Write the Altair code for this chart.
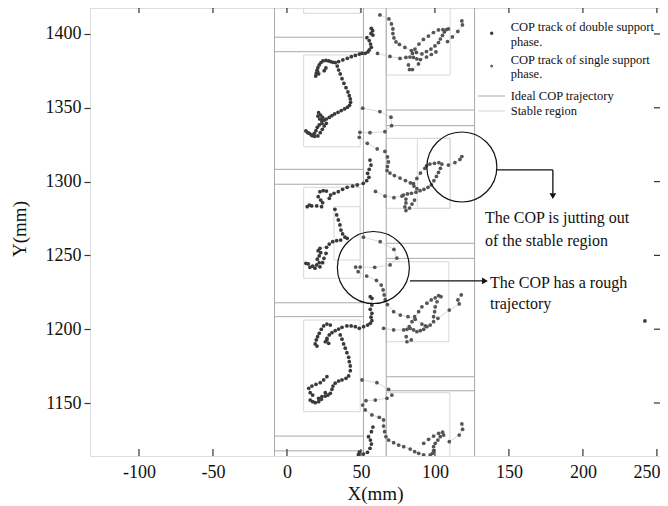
import altair as alt
import pandas as pd

# ---------------- axes ----------------
X_TICKS = [-100, -50, 0, 50, 100, 150, 200, 250]
Y_TICKS = [1150, 1200, 1250, 1300, 1350, 1400]
X_DOMAIN = [-133.1, 252.1]
Y_DOMAIN = [1114.1, 1417.6]

# ---------------- COP tracks (mm) ----------------
L1A = [(57.0,1403.8),(57.9,1402.2),(56.8,1400.4),(58.1,1399.3),(54.0,1397.5),(55.6,1395.5),(56.5,1393.2),
       (57.0,1391.0),(55.6,1389.2),(54.7,1387.8),(52.9,1386.9),(50.7,1386.9),(48.9,1386.4),(46.2,1385.5),
       (43.5,1384.6),(40.8,1383.5),(37.8,1382.4),(34.9,1381.3),(32.7,1380.6),(31.1,1380.8),(29.5,1381.3),
       (28.2,1381.7),(26.3,1382.1),(24.3,1381.7),(23.0,1380.6),(21.8,1379.0),(20.9,1377.2),(20.3,1375.4),
       (19.8,1373.3),(19.4,1371.5),(20.7,1374.5),(21.4,1372.9),(25.2,1375.1),(26.3,1377.0)]
L1B = [(34.0,1378.3),(34.9,1375.6),(36.0,1372.9),(37.2,1369.7),(38.5,1366.6),(39.9,1363.6),(41.2,1360.7),
       (42.1,1358.2),(42.8,1356.0),(43.0,1353.7),(42.3,1351.7),(40.8,1350.3),(38.9,1349.2),(36.7,1348.1),
       (34.5,1346.9),(32.2,1345.8),(30.4,1344.7),(28.6,1343.5),(26.6,1342.4),(24.1,1343.5),(22.7,1345.1),
       (21.4,1346.7),(20.9,1344.4),(22.1,1342.4),(23.6,1341.3),(25.2,1341.7),(23.6,1339.5),(21.8,1338.4),
       (20.5,1336.8),(19.6,1334.5),(18.5,1332.7),(17.3,1331.1),(15.1,1332.7),(12.8,1334.3),(14.0,1333.1),
       (16.4,1331.6),(18.7,1330.7),(20.9,1330.9),(22.5,1333.1),(23.9,1335.4),(25.2,1337.7),(26.6,1339.5)]
T1 = [(51.2,1349.7),(62.8,1347.4),(70.3,1343.6),(70.7,1337.9),(66.2,1333.8),(56.1,1333.1),(49.3,1333.4),
      (48.9,1330.0),(54.3,1325.9),(61.0,1322.1)]
R1A = [(62.8,1412.9),(68.9,1410.2),(70.6,1406.8),(71.6,1403.4),(71.6,1400.3),(72.3,1397.3),(73.7,1394.6),
       (76.0,1392.9),(79.7,1390.9),(84.1,1388.8),(87.5,1387.5),(91.2,1386.5),(94.3,1388.1),(97.3,1389.8),
       (100.0,1391.9),(102.4,1394.2),(103.7,1396.6),(105.1,1399.0),(106.4,1401.4),(107.8,1403.0),
       (109.1,1403.4),(105.4,1403.0),(102.4,1402.7),(99.0,1401.0),(95.6,1398.6),(92.2,1396.3),(89.2,1393.2),
       (86.5,1389.8),(84.8,1386.8)]
R1B = [(61.2,1386.8),(69.6,1384.8),(76.4,1383.4),(80.4,1384.1),(83.1,1384.4),(85.5,1384.1),(87.8,1383.1),
       (90.2,1382.7),(94.3,1384.4),(97.6,1386.1),(100.7,1387.8)]
R1C = [(82.1,1379.0),(82.8,1375.9),(84.8,1375.9),(88.9,1379.7)]
R1D = [(108.5,1394.9),(111.8,1398.0),(115.5,1401.7),(118.6,1406.1),(118.2,1408.8)]
R2A = [(66.2,1320.4),(67.9,1316.7),(68.6,1313.3),(67.9,1310.2),(67.6,1307.5),(69.6,1305.8),(72.6,1304.1),
       (76.4,1302.4),(80.1,1300.7),(83.4,1299.1),(85.8,1297.0),(87.8,1295.3)]
R2B = [(94.3,1310.6),(96.6,1311.9),(99.7,1312.4),(102.7,1312.8),(104.7,1311.9),(103.7,1309.0),(102.4,1306.2),
       (101.0,1303.5),(99.3,1300.6),(97.6,1297.7),(95.3,1296.1),(92.6,1294.8),(89.9,1293.8),(87.2,1292.8),
       (84.1,1292.1),(81.4,1291.6),(78.7,1290.9)]
R2C = [(93.2,1309.0),(90.2,1305.8),(87.8,1302.1),(85.5,1298.7)]
R2D = [(59.8,1293.3),(66.2,1290.2),(72.3,1289.1),(77.7,1290.2)]
R2E = [(80.4,1288.2),(80.4,1285.5),(79.7,1282.8),(80.4,1280.4),(82.8,1282.1),(84.5,1284.8),(86.2,1287.5)]
R2F = [(109.1,1311.2),(113.5,1312.9),(116.9,1315.0),(118.2,1317.0)]
L2A = [(56.1,1314.6),(56.8,1311.2),(55.6,1308.3),(54.5,1305.6),(55.4,1302.9),(53.9,1300.6),(51.6,1298.8),
       (47.5,1297.7),(44.4,1297.0),(40.7,1296.1),(37.6,1294.8),(34.7,1293.2),(31.8,1292.1),(29.5,1290.9),
       (28.6,1288.7)]
L2B = [(26.7,1293.6),(24.5,1293.8),(22.3,1293.2),(21.1,1289.8),(22.8,1287.5),(24.1,1285.7),(23.4,1283.0),
       (20.1,1283.5),(16.7,1283.5),(13.7,1283.0),(15.2,1284.1)]
L2C = [(32.4,1281.2),(33.6,1277.4),(34.7,1274.0),(35.8,1270.6),(36.5,1267.2),(37.6,1264.5),(39.2,1262.3),
       (40.7,1261.6)]
L2D = [(36.3,1260.4),(33.6,1260.0),(30.9,1259.3),(28.6,1257.7),(26.8,1255.5),(22.3,1254.8),(21.1,1253.2),
       (22.8,1251.8),(21.8,1249.6),(20.5,1247.4),(21.8,1245.1),(20.1,1243.5),(17.4,1242.8),(14.4,1244.2),
       (12.8,1244.6),(15.5,1241.9),(18.9,1241.3),(22.3,1242.3),(24.1,1245.1),(25.0,1248.0),(26.4,1251.4)]
T2 = [(51.7,1262.3),(63.0,1259.3),(72.3,1254.0),(74.3,1248.2),(69.7,1243.5),(59.3,1241.9),(49.5,1242.1),
      (46.4,1242.1),(48.1,1239.0),(53.9,1236.0),(60.5,1233.0),(63.7,1229.9),(65.0,1226.6),(65.7,1223.2),
      (66.4,1220.0),(67.9,1216.7),(72.1,1211.9),(76.6,1209.6),(81.8,1208.5),(86.7,1206.7),(91.2,1203.5),
      (93.5,1202.2)]
R3A = [(94.6,1217.6),(97.5,1219.8),(100.2,1221.3),(102.5,1222.7),(104.1,1222.0),(101.4,1218.6),(100.2,1215.2),
       (99.8,1211.9),(99.1,1208.5),(99.1,1205.1),(96.8,1202.8),(94.6,1201.7),(92.4,1199.9),(90.1,1199.0),
       (87.8,1198.3),(85.6,1199.5),(83.3,1200.6),(81.1,1199.9),(78.9,1199.5),(72.1,1199.5),(65.3,1200.6)]
R3B = [(91.2,1215.2),(89.0,1211.9),(86.3,1208.5),(84.5,1205.1),(82.6,1201.7)]
R3C = [(80.6,1194.9),(81.1,1191.5),(84.0,1192.7)]
R3D = [(102.0,1207.4),(109.7,1213.0),(116.4,1217.1),(115.5,1219.8),(117.8,1223.2)]
L3A = [(56.3,1222.0),(57.4,1220.9),(57.4,1216.4),(56.3,1213.5),(57.4,1210.8),(56.8,1208.1),(57.4,1205.8),
       (56.3,1204.0),(54.5,1202.8),(51.8,1201.7),(48.9,1200.6),(46.2,1201.7),(43.4,1202.2),(40.5,1202.2),
       (37.2,1201.3),(34.9,1200.1),(32.6,1199.0),(30.4,1197.6),(28.6,1196.1),(27.0,1193.8),(25.9,1191.5)]
L3B = [(29.3,1202.8),(27.0,1203.5),(24.8,1202.2),(23.2,1199.9),(21.8,1197.2),(20.7,1194.9),(19.8,1192.7),
       (19.1,1190.0),(20.3,1188.6)]
L3E = [(27.0,1192.7),(28.2,1190.4)]
L3C = [(36.0,1196.1),(37.2,1193.2),(38.3,1190.0),(39.4,1187.1),(40.5,1184.1),(41.7,1181.0),(42.1,1178.0),
       (42.8,1175.1),(42.8,1171.9),(41.7,1168.3),(39.9,1166.7),(37.2,1165.6),(34.9,1164.9),(32.6,1163.4),
       (31.1,1161.5),(30.4,1159.3),(29.3,1156.6),(27.7,1155.4),(25.9,1154.7),(23.6,1154.3),(21.4,1153.2)]
L3D = [(27.0,1167.8),(24.8,1165.6),(22.5,1163.8),(19.6,1162.7),(16.9,1161.5),(14.7,1160.0),(15.7,1157.0),
       (17.4,1155.4),(15.7,1152.0),(17.4,1150.9),(19.1,1150.2),(21.4,1150.9),(23.2,1152.5),(25.9,1157.0)]
T3 = [(50.7,1165.6),(60.8,1163.8),(68.7,1159.3),(70.9,1155.4),(67.6,1153.2),(59.7,1152.0),(53.4,1151.6),
      (51.2,1148.6),(52.9,1145.3),(57.4,1141.9),(62.4,1140.3),(65.3,1138.5),(65.3,1134.4),(66.0,1130.6),
      (66.9,1127.2),(68.7,1124.9),(72.1,1123.1),(75.5,1121.5),(78.9,1120.4),(83.3,1118.8),(86.3,1117.0),
      (89.0,1115.9),(92.4,1114.8)]
R4A = [(92.4,1122.7),(95.7,1125.4),(99.1,1127.6),(102.5,1129.5),(105.2,1130.2),(105.9,1128.3),(103.6,1127.2),
       (102.0,1124.9),(100.2,1122.7),(99.1,1120.4),(99.1,1117.7),(98.4,1115.9),(96.8,1114.8)]
R4B = [(109.7,1123.8),(116.4,1128.3),(118.7,1132.2),(118.2,1135.8)]
L4 = [(58.1,1133.7),(57.1,1130.6),(55.1,1127.2),(56.4,1124.9),(57.1,1122.2),(56.1,1119.3),(54.4,1116.6),
      (51.7,1115.4),(48.9,1116.8),(48.3,1115.1)]
STRAY = [(241.9,1205.6)]

TRACKS = [
    ("L1A", "double", L1A), ("L1B", "double", L1B), ("L2A", "double", L2A), ("L2B", "double", L2B),
    ("L2C", "double", L2C), ("L2D", "double", L2D), ("L3A", "double", L3A), ("L3B", "double", L3B),
    ("L3E", "double", L3E), ("L3C", "double", L3C), ("L3D", "double", L3D), ("L4", "double", L4),
    ("T1", "single", T1), ("T2", "single", T2), ("T3", "single", T3),
    ("R1A", "single", R1A), ("R1B", "single", R1B), ("R1C", "single", R1C), ("R1D", "single", R1D),
    ("R2A", "single", R2A), ("R2B", "single", R2B), ("R2C", "single", R2C), ("R2D", "single", R2D),
    ("R2E", "single", R2E), ("R2F", "single", R2F),
    ("R3A", "single", R3A), ("R3B", "single", R3B), ("R3C", "single", R3C), ("R3D", "single", R3D),
    ("R4A", "single", R4A), ("R4B", "single", R4B), ("STRAY", "double", STRAY),
]

# ---------------- ideal COP trajectory / stable regions (mm) ----------------
IDEAL_VX = [-8.4, 51.7, 67.1, 126.8]
IDEAL_LEFT_Y = [1397.8, 1388.0, 1308.3, 1298.2, 1217.9, 1208.5, 1127.6, 1117.6]
IDEAL_LEFT_X = (-8.4, 51.7)
IDEAL_RIGHT_Y = [1348.5, 1337.9, 1258.2, 1248.0, 1167.8, 1158.3]
IDEAL_RIGHT_X = (67.1, 126.8)
STABLE_X1 = [11.3, 11.3, 11.3, 31.8, 11.3, 67.1, 67.1, 88.1, 67.1, 67.1]
STABLE_X2 = [49.5, 49.5, 49.5, 49.5, 49.5, 110.3, 110.3, 110.3, 109.4, 110.1]
STABLE_Y1 = [1414.0, 1323.6, 1234.5, 1246.9, 1144.1, 1372.2, 1281.9, 1281.9, 1191.5, 1100.0]
STABLE_Y2 = [1430.0, 1385.8, 1296.1, 1283.0, 1206.2, 1419.0, 1329.3, 1329.3, 1245.7, 1157.0]

# ---------------- annotations (mm) ----------------
CIRCLE_X = [118.2, 58.4]
CIRCLE_Y = [1309.9, 1241.8]
CIRCLE_S = [4900, 5184]
ARROW_X1 = [141.9, 179.7, 83.1]
ARROW_X2 = [179.7, 179.7, 132.0]
ARROW_Y1 = [1307.9, 1307.9, 1232.7]
ARROW_Y2 = [1307.9, 1292.0, 1232.7]
HEAD_X = [179.7, 133.8]
HEAD_Y = [1290.2, 1232.7]
HEAD_SHAPE = ["triangle-down", "triangle-right"]
NOTE_TEXT = ["The COP is jutting out", "of the stable region", "The COP has a rough", "trajectory"]
NOTE_X = [133.8, 133.8, 137.2, 137.2]
NOTE_Y = [1275.3, 1259.8, 1231.3, 1217.1]

LEGEND_TEXT = ["COP track of double support", "phase.", "COP track of single support", " phase.",
               "Ideal COP trajectory", "Stable region"]

# ---------------- build tables ----------------
rows = []
for name, phase, pts in TRACKS:
    for i, (x, y) in enumerate(pts):
        rows.append({"track": name, "phase": phase, "i": i, "x": x, "y": y})
df = pd.DataFrame(rows)

df_v = pd.DataFrame({"x": IDEAL_VX})
df_h = pd.DataFrame(
    [{"y": y, "x1": IDEAL_LEFT_X[0], "x2": IDEAL_LEFT_X[1]} for y in IDEAL_LEFT_Y]
    + [{"y": y, "x1": IDEAL_RIGHT_X[0], "x2": IDEAL_RIGHT_X[1]} for y in IDEAL_RIGHT_Y]
)
df_rect = pd.DataFrame({"x1": STABLE_X1, "x2": STABLE_X2, "y1": STABLE_Y1, "y2": STABLE_Y2})
df_circ = pd.DataFrame({"x": CIRCLE_X, "y": CIRCLE_Y, "s": CIRCLE_S})
df_arr = pd.DataFrame({"x1": ARROW_X1, "x2": ARROW_X2, "y1": ARROW_Y1, "y2": ARROW_Y2})
df_head = pd.DataFrame({"x": HEAD_X, "y": HEAD_Y, "shape": HEAD_SHAPE})
df_note = pd.DataFrame({"x": NOTE_X, "y": NOTE_Y, "t": NOTE_TEXT})
df_xt = pd.DataFrame({"v": X_TICKS})
df_yt = pd.DataFrame({"v": Y_TICKS})
one = pd.DataFrame({"a": [0]})

W, H = 570, 448
FONT = "Liberation Serif"
XS = alt.Scale(domain=X_DOMAIN, nice=False, zero=False)
YS = alt.Scale(domain=Y_DOMAIN, nice=False, zero=False)
XAXIS = alt.Axis(values=X_TICKS, ticks=False, domain=False, grid=False, labelExpr="'' + datum.value",
                 labelAlign={"condition": {"test": "datum.value == 250", "value": "right"}, "value": "center"},
                 labelOffset={"condition": {"test": "datum.value == 250", "value": 3}, "value": 0},
                 labelFont=FONT, labelFontSize=18, labelPadding=7, labelColor="#111",
                 title="X(mm)", titleFont=FONT, titleFontSize=19, titleFontWeight="normal",
                 titleColor="#111", titleY=37, titleBaseline="middle")
YAXIS = alt.Axis(values=Y_TICKS, tickSize=6, tickColor="#333", tickWidth=1.2, domain=False, grid=False,
                 labelExpr="'' + datum.value", labelFont=FONT, labelFontSize=18, labelPadding=3,
                 labelColor="#111", title="Y(mm)", titleFont=FONT, titleFontSize=19,
                 titleFontWeight="normal", titleColor="#111", titleX=-71, titleY=220.5,
                 titleBaseline="middle", titleAlign="center")


def X(f):
    return alt.X(f"{f}:Q", scale=XS, axis=XAXIS)


def Y(f):
    return alt.Y(f"{f}:Q", scale=YS, axis=YAXIS)


rects = alt.Chart(df_rect).mark_rect(fillOpacity=0, stroke="#d8d8d8", strokeWidth=1, clip=True).encode(
    x=X("x1"), x2="x2", y=Y("y1"), y2="y2")
vrules = alt.Chart(df_v).mark_rule(color="#a9a9a9", strokeWidth=1).encode(x=X("x"))
hrules = alt.Chart(df_h).mark_rule(color="#a9a9a9", strokeWidth=1, clip=True).encode(
    x=X("x1"), x2="x2", y=Y("y"))
lines = alt.Chart(df).mark_line(color="#c9c9c9", strokeWidth=0.7, clip=True).encode(
    x=X("x"), y=Y("y"), detail="track:N", order="i:Q")
points = alt.Chart(df).mark_circle(size=14, opacity=1, clip=True).encode(
    x=X("x"), y=Y("y"),
    color=alt.Color("phase:N", scale=alt.Scale(domain=["double", "single"], range=["#3a3a3a", "#555555"]),
                    legend=None))
circles = alt.Chart(df_circ).mark_point(shape="circle", filled=False, color="#111", strokeWidth=1.2,
                                        opacity=1).encode(
    x=X("x"), y=Y("y"), size=alt.Size("s:Q", scale=None, legend=None))
arrows = alt.Chart(df_arr).mark_rule(color="#111", strokeWidth=1.3).encode(
    x=X("x1"), x2="x2", y=Y("y1"), y2="y2")
heads = alt.Chart(df_head).mark_point(filled=True, color="#111", size=45, opacity=1).encode(
    x=X("x"), y=Y("y"), shape=alt.Shape("shape:N", scale=None, legend=None))
notes = alt.Chart(df_note).mark_text(align="left", baseline="middle", font=FONT, fontSize=16,
                                     color="#111").encode(x=X("x"), y=Y("y"), text="t:N")

tick_b = alt.Chart(df_xt).mark_rule(color="#333", strokeWidth=1.2).encode(
    x=X("v"), y=alt.value(H), y2=alt.value(H - 7))
tick_t = alt.Chart(df_xt).mark_rule(color="#333", strokeWidth=1.2).encode(
    x=X("v"), y=alt.value(0), y2=alt.value(5))
tick_r = alt.Chart(df_yt).mark_rule(color="#333", strokeWidth=1.2).encode(
    y=Y("v"), x=alt.value(W), x2=alt.value(W - 6))

# legend (manual, upper right)
leg = []
leg.append(alt.Chart(one).mark_circle(size=12, color="#3a3a3a", opacity=1).encode(
    x=alt.value(401.7), y=alt.value(25.3)))
leg.append(alt.Chart(one).mark_circle(size=9, color="#6a6a6a", opacity=1).encode(
    x=alt.value(401.7), y=alt.value(58)))
leg.append(alt.Chart(one).mark_rule(color="#a9a9a9", strokeWidth=1).encode(
    x=alt.value(388), x2=alt.value(415), y=alt.value(88)))
leg.append(alt.Chart(one).mark_rule(color="#d8d8d8", strokeWidth=1).encode(
    x=alt.value(388), x2=alt.value(415), y=alt.value(103)))
LEG_POS = [(420.7, 18.7), (420.7, 33.7), (420.7, 52), (420.7, 66), (420.7, 88), (420.7, 103)]
for txt, (lx, ly) in zip(LEGEND_TEXT, LEG_POS):
    leg.append(alt.Chart(one).mark_text(align="left", baseline="middle", font=FONT, fontSize=12.5,
                                        color="#111", text=txt).encode(x=alt.value(lx), y=alt.value(ly)))

chart = alt.layer(
    rects, vrules, hrules, lines, points, circles, arrows, heads, notes, tick_b, tick_t, tick_r, *leg
).properties(
    width=W, height=H,
    padding={"left": 82, "top": 0, "right": 0, "bottom": 50},
    autosize=alt.AutoSizeParams(type="none"),
).configure_view(stroke="#333", strokeWidth=1.5).configure(font=FONT)

chart.save("out.html", embed_options={"renderer": "svg", "actions": False})
